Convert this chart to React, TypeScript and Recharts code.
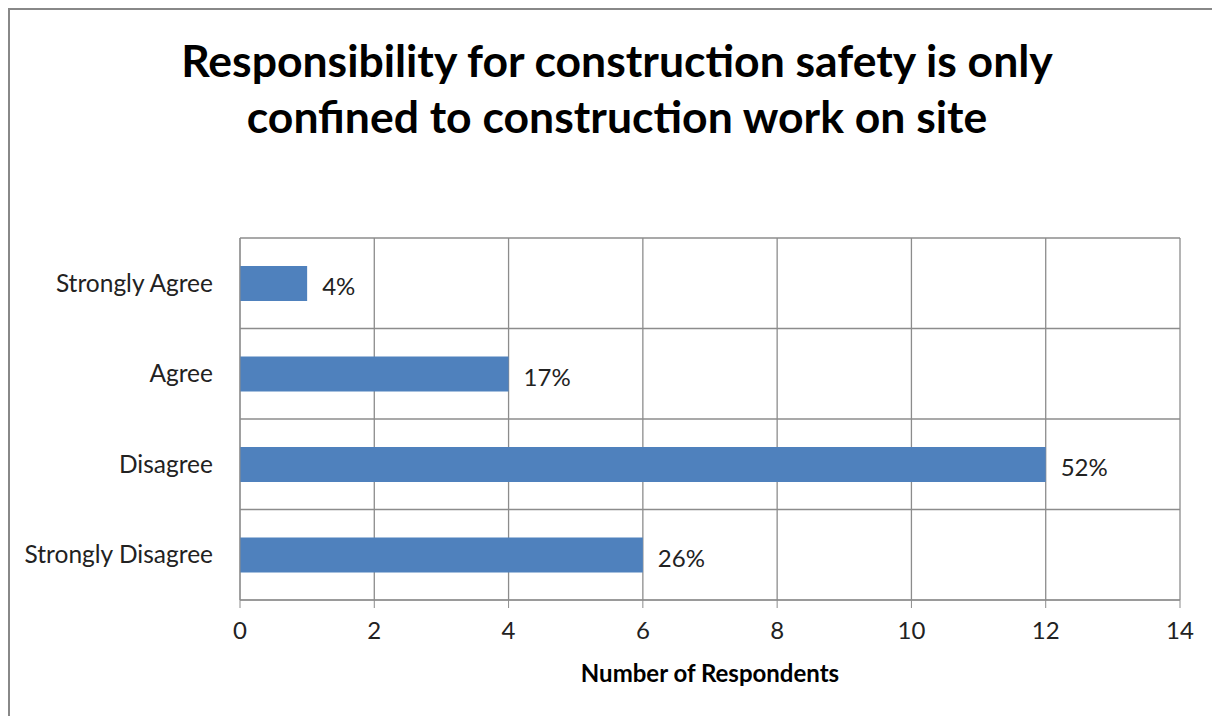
import { BarChart, Bar, XAxis, YAxis, CartesianGrid, LabelList } from "recharts"

const categories = ["Strongly Agree", "Agree", "Disagree", "Strongly Disagree"]
const respondents = [1, 4, 12, 6]
const percents = ["4%", "17%", "52%", "26%"]
const xTicks = [0, 2, 4, 6, 8, 10, 12, 14]

const data = categories.map((name, i) => ({ name, value: respondents[i], pct: percents[i] }))

const font = "Lato, 'Open Sans', sans-serif"

// excel draws the horizontal lines between categories, not through them
const bandLines = ({ offset }: any) => {
  const step = offset.height / categories.length
  return categories.map((_, i) => offset.top + i * step).concat(offset.top + offset.height)
}

export default function App() {
  return (
    <div style={{ position: "relative", width: 1212, height: 708, borderLeft: "2px solid #888", borderTop: "2px solid #888", fontFamily: font }}>
      <div style={{ position: "absolute", left: 0, top: 22, width: 1214, textAlign: "center", fontSize: 44.5, fontWeight: 700, lineHeight: "56px", color: "#000" }}>
        Responsibility for construction safety is only<br />confined to construction work on site
      </div>
      <BarChart width={1210} height={706} data={data} layout="vertical" margin={{ top: 228, right: 40, left: 10, bottom: 26 }}>
        <CartesianGrid stroke="#8c8c8c" strokeWidth={1.3} horizontalCoordinatesGenerator={bandLines} />
        <XAxis type="number" domain={[0, 14]} ticks={xTicks} interval={0} stroke="#8c8c8c" tickSize={8} height={90}
          tick={{ fill: "#222", fontSize: 24, fontFamily: font, dy: 12 }}
          label={{ value: "Number of Respondents", position: "insideBottom", offset: 8, fill: "#000", fontSize: 24, fontWeight: 700, fontFamily: font }} />
        <YAxis type="category" dataKey="name" width={220} stroke="#8c8c8c" tickLine={false}
          tick={{ fill: "#222", fontSize: 24.5, fontFamily: font }} tickMargin={21} />
        <Bar dataKey="value" fill="#4F81BD" barSize={35} isAnimationActive={false}>
          <LabelList dataKey="pct" position="right" offset={15} fill="#222" fontSize={24} fontFamily={font} dy={3} />
        </Bar>
      </BarChart>
    </div>
  )
}
